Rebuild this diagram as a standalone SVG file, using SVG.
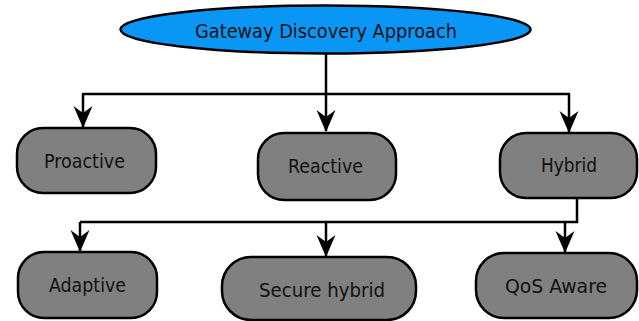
<svg xmlns="http://www.w3.org/2000/svg" width="639" height="321" viewBox="0 0 639 321">
<style>
.n{fill:#808080;stroke:#000;stroke-width:2.5}
.t{font-family:"DejaVu Sans Condensed","DejaVu Sans",Verdana,sans-serif;font-stretch:condensed;font-size:19px;fill:#111;text-anchor:middle}
.c{fill:none;stroke:#000;stroke-width:2.5}
</style>
<defs>
<marker id="ah" markerWidth="22" markerHeight="22" viewBox="0 0 22 22" refX="21" refY="11" orient="auto" markerUnits="userSpaceOnUse">
<path d="M0,1.5 L22,11 L0,20.5 L7,11 Z" fill="#000"/>
</marker>
</defs>
<g id="root">
<ellipse cx="325.5" cy="29.5" rx="205" ry="24" fill="#0a96f5" stroke="#000" stroke-width="2.5"/>
<text class="t" x="326" y="38" textLength="262" lengthAdjust="spacingAndGlyphs">Gateway Discovery Approach</text>
</g>
<g id="proactive">
<rect class="n" x="17" y="128" width="139" height="65" rx="26"/>
<text class="t" x="84.5" y="168" textLength="81" lengthAdjust="spacingAndGlyphs">Proactive</text>
</g>
<g id="reactive">
<rect class="n" x="258" y="133" width="138" height="67" rx="26"/>
<text class="t" x="325.5" y="173" textLength="75" lengthAdjust="spacingAndGlyphs">Reactive</text>
</g>
<g id="hybrid">
<rect class="n" x="500" y="133" width="137" height="65" rx="26"/>
<text class="t" x="569" y="172" textLength="56" lengthAdjust="spacingAndGlyphs">Hybrid</text>
</g>
<g id="adaptive">
<rect class="n" x="18" y="252" width="139" height="66" rx="26"/>
<text class="t" x="87.5" y="292" textLength="77" lengthAdjust="spacingAndGlyphs">Adaptive</text>
</g>
<g id="secure">
<rect class="n" x="222" y="257" width="194" height="63" rx="29"/>
<text class="t" x="322" y="297" textLength="126" lengthAdjust="spacingAndGlyphs">Secure hybrid</text>
</g>
<g id="qos">
<rect class="n" x="476" y="253" width="161" height="65" rx="28"/>
<text class="t" x="556" y="293" textLength="102" lengthAdjust="spacingAndGlyphs">QoS Aware</text>
</g>
<g id="connectors">
<path class="c" d="M326,54 V94 M82,94 H570"/>
<path class="c" d="M83,94 V127" marker-end="url(#ah)"/>
<path class="c" d="M326,94 V131" marker-end="url(#ah)"/>
<path class="c" d="M569,94 V132" marker-end="url(#ah)"/>
<path class="c" d="M577,198 V222 H80"/>
<path class="c" d="M80,222 V251" marker-end="url(#ah)"/>
<path class="c" d="M326,222 V256" marker-end="url(#ah)"/>
<path class="c" d="M565,222 V252" marker-end="url(#ah)"/>
</g>
</svg>
